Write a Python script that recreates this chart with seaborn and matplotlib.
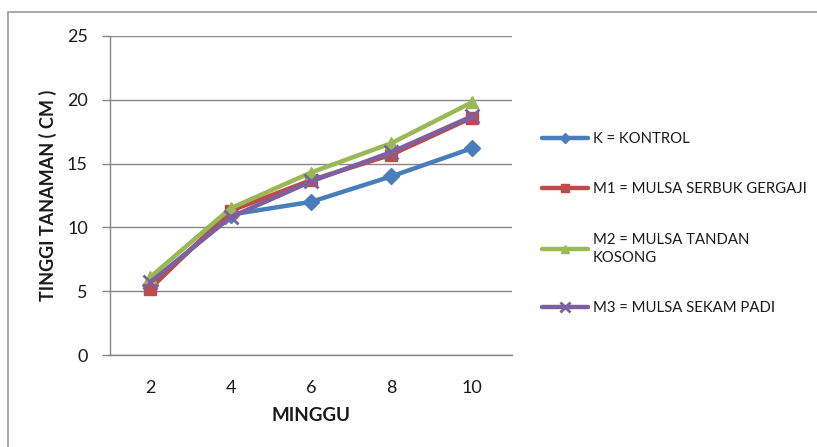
import matplotlib
matplotlib.use("Agg")
import matplotlib.pyplot as plt
import seaborn as sns
import pandas as pd
from matplotlib.patches import Rectangle

# ---- data ----
minggu = ["2", "4", "6", "8", "10"]
k_kontrol = [5.5, 11.0, 12.0, 14.0, 16.2]
m1_serbuk = [5.2, 11.3, 13.7, 15.7, 18.6]
m2_tandan = [6.1, 11.5, 14.3, 16.6, 19.8]
m3_sekam = [5.7, 10.8, 13.6, 15.9, 18.7]
labels = ["K = KONTROL", "M1 = MULSA SERBUK GERGAJI",
          "M2 = MULSA TANDAN\nKOSONG", "M3 = MULSA SEKAM PADI"]
series = [k_kontrol, m1_serbuk, m2_tandan, m3_sekam]
y_ticks = [0, 5, 10, 15, 20, 25]

rows = []
for lab, vals in zip(labels, series):
    for i, (m, v) in enumerate(zip(minggu, vals)):
        rows.append({"pos": i, "Minggu": m, "Tinggi": v, "Perlakuan": lab})
df = pd.DataFrame(rows)

colors = ["#4A7EBB", "#BE4B48", "#98B954", "#7D60A0"]
markers = ["D", "s", "^", "x"]
msizes = [8, 9, 9, 10]

sns.set_style("white")
plt.rcParams["font.family"] = ["Lato", "DejaVu Sans"]

fig = plt.figure(figsize=(8.17, 4.47), dpi=100)
ax = fig.add_axes([110 / 817, 1 - 355 / 447, 402 / 817, 319 / 447])

handles = []
for lab, col, mk, ms in zip(labels, colors, markers, msizes):
    sub = df[df["Perlakuan"] == lab]
    sns.lineplot(data=sub, x="pos", y="Tinggi", ax=ax, color=col,
                 marker=mk, markersize=ms, linewidth=3.2, label=lab,
                 legend=False)
    ln = ax.get_lines()[-1]
    ln.set_markeredgecolor(col)
    ln.set_markerfacecolor(col)
    ln.set_markeredgewidth(2.0 if mk == "x" else 1.0)
    handles.append(ln)

ax.set_xlim(-0.5, 4.5)
ax.set_ylim(0, 25)
ax.set_xticks(range(len(minggu)))
ax.set_xticklabels(minggu)
ax.set_yticks(y_ticks)
ax.yaxis.grid(True, color="#868686", linewidth=1.0)
ax.xaxis.grid(False)
for s in ["top", "right"]:
    ax.spines[s].set_visible(False)
for s in ["left", "bottom"]:
    ax.spines[s].set_color("#868686")
    ax.spines[s].set_linewidth(1.0)
ax.tick_params(axis="y", length=6, color="#868686", width=1.0, pad=10,
               labelsize=13, labelcolor="#1a1a1a", left=True)
ax.tick_params(axis="x", length=0, pad=18, labelsize=13, labelcolor="#1a1a1a")
ax.set_xlabel("MINGGU", fontsize=13.5, fontweight="bold", labelpad=8,
              color="#1a1a1a")
ax.set_ylabel("TINGGI TANAMAN ( CM )", fontsize=13, fontweight="bold",
              labelpad=7, color="#1a1a1a")

leg = fig.legend(handles=handles, labels=labels, loc="upper left",
                 bbox_to_anchor=(542 / 817, 1 - 132 / 447), frameon=False,
                 fontsize=10.7, handlelength=3.1, handletextpad=0.3,
                 labelspacing=2.45, borderaxespad=0, borderpad=0,
                 markerscale=0.65)
for t in leg.get_texts():
    t.set_color("#1a1a1a")
    t.set_linespacing(1.35)

fig.patches.append(Rectangle((8 / 817, -0.1), 1.2, 1 - 12 / 447 + 0.1,
                             transform=fig.transFigure, fill=False,
                             edgecolor="#9a9a9a", linewidth=1.2))

fig.savefig("out.png", dpi=100)
